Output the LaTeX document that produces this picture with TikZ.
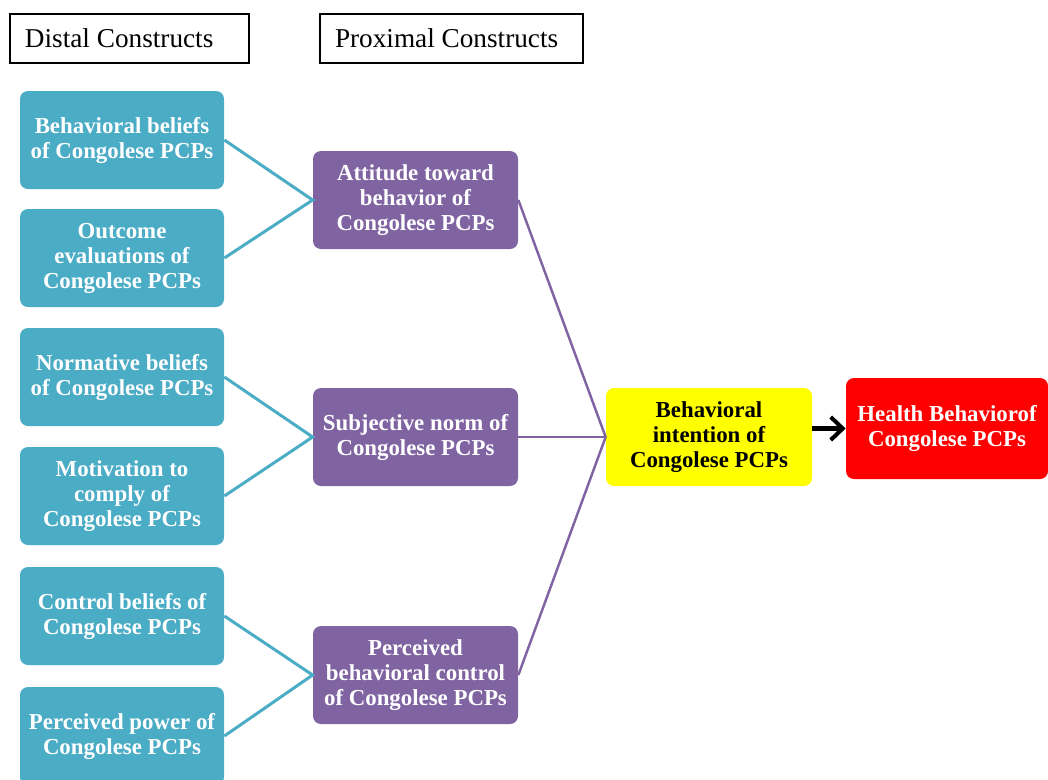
\documentclass[tikz,border=0pt]{standalone}
\usepackage{fontspec}
\setmainfont{Liberation Serif}
\usepackage{tikz}
\usetikzlibrary{arrows.meta,positioning}
\usepackage{xcolor}
\definecolor{distalteal}{RGB}{75,172,198}
\definecolor{proxpurple}{RGB}{128,100,162}
\definecolor{intentyellow}{RGB}{255,255,0}
\definecolor{behavred}{RGB}{255,0,0}

\begin{document}
\begin{tikzpicture}[
    box/.style={rounded corners=0.16cm,minimum width=4.08cm,minimum height=1.96cm,inner sep=2pt,align=center,font=\fontsize{13}{14.2}\selectfont\bfseries},
    distal/.style={box,fill=distalteal,text=white},
    proximal/.style={box,fill=proxpurple,text=white,minimum width=4.1cm},
    header/.style={draw=black,line width=1.6pt,minimum height=0.98cm,inner xsep=0.3cm,align=flush left,font=\fontsize{15.5}{17}\selectfont},
    distline/.style={distalteal,line width=1.7pt},
    proxline/.style={proxpurple,line width=1.4pt},
    >={Straight Barb[length=2.4mm,width=4.6mm]}
]
\useasboundingbox (0,0) rectangle (20.96,-15.58);

% column headings
\node[header,text width=4.18cm] (disthead) at (2.59,-0.77) {Distal Constructs};
\node[header,text width=4.66cm] (proxhead) at (9.03,-0.77) {Proximal Constructs};

% distal constructs
\node[distal] (bbel) at (2.44,-2.8) {Behavioral beliefs\\of Congolese PCPs};
\node[distal] (oeval) at (2.44,-5.16) {Outcome\\evaluations of\\Congolese PCPs};
\node[distal] (nbel) at (2.44,-7.54) {Normative beliefs\\of Congolese PCPs};
\node[distal] (mcomp) at (2.44,-9.92) {Motivation to\\comply of\\Congolese PCPs};
\node[distal] (cbel) at (2.44,-12.32) {Control beliefs of\\Congolese PCPs};
\node[distal] (ppow) at (2.44,-14.72) {Perceived power of\\Congolese PCPs};

% proximal constructs
\node[proximal] (att) at (8.31,-4.0) {Attitude toward\\behavior of\\Congolese PCPs};
\node[proximal] (snorm) at (8.31,-8.74) {Subjective norm of\\Congolese PCPs};
\node[proximal] (pbc) at (8.31,-13.5) {Perceived\\behavioral control\\of Congolese PCPs};

% intention and behavior
\node[box,fill=intentyellow,minimum width=4.12cm] (intent) at (14.18,-8.74) {Behavioral\\intention of\\Congolese PCPs};
\node[box,fill=behavred,text=white,minimum width=4.04cm,minimum height=2.02cm] (health) at (18.94,-8.57) {Health Behaviorof\\Congolese PCPs};

\draw[distline] (bbel.east) -- (att.west) -- (oeval.east);
\draw[distline] (nbel.east) -- (snorm.west) -- (mcomp.east);
\draw[distline] (cbel.east) -- (pbc.west) -- (ppow.east);

\draw[proxline] (att.east) -- (intent.west);
\draw[proxline] (snorm.east) -- (intent.west);
\draw[proxline] (pbc.east) -- (intent.west);

\draw[->,line width=2.3pt,black] (intent.east |- health.west) -- (health.west);
\end{tikzpicture}
\end{document}
